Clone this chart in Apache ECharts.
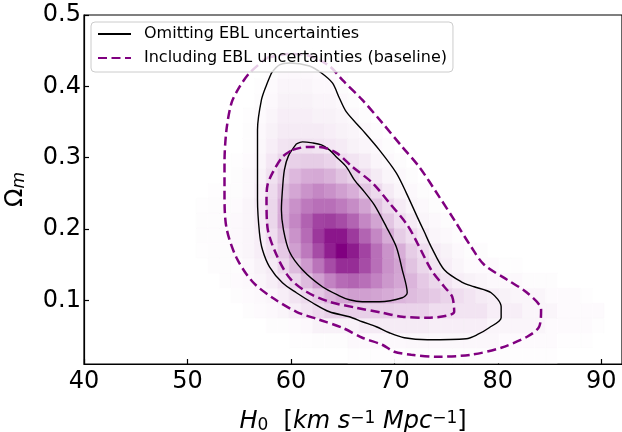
<!DOCTYPE html>
<html><head><meta charset="utf-8">
<script src="https://cdn.jsdelivr.net/npm/echarts@6/dist/echarts.min.js"></script>
<style>html,body{margin:0;padding:0;background:#fff}#c{width:622px;height:432px}</style>
</head><body><div id="c"></div>
<script>
const xTicks = [40, 50, 60, 70, 80, 90];
const yTicks = [0.1, 0.2, 0.3, 0.4, 0.5];
const seriesNames = ['Omitting EBL uncertainties', 'Including EBL uncertainties (baseline)'];

// 2D histogram bins (H0 start, width; Omega_m start, height)
const binX0 = 50.85, binW = 1.126, binY0 = 0.0124, binH = 0.021;

// density rows, bottom (Omega_m low) to top; columns H0 low to high (0-100 scale)
const density = [
  [0,0,0,0,0,0,0,0,0,0,0,0,0,0.5,0.5,0.5,0.5,0.5,1,1,1,1,1,1,1,1,1,0.5,0.5,0.5,0.5,0,0,0,0,0],
  [0,0,0,0,0,0,0,0,0.5,0.5,1,1,1,2,2,2,2,2,2.5,2.5,2.5,2.5,2.5,2.5,2.5,2.5,1.5,1.5,1.5,1.5,1.5,0.5,0.5,0.5,0,0],
  [0,0,0,0,0,0,1,1,1.5,2,4,4,4,4,6,6,6,6,6,6,5,5,5,5,5,3,3,3,3,3,1.5,1.5,1.5,1.5,0.5,0],
  [0,0,0,0,1,1.5,2,3,5,8,11,14,14,14,14,14,14,13,13,13,10,10,8,8,8,5,5,5,3,3,3,1.5,1.5,1.5,1.5,0],
  [0,0,0,1,1.5,2,3,5,8,11,16,22,27,30,30,28,25,22,20,18,16,13,10,8,6,5,4,3,3,3,1.5,1.5,1.5,0.5,0,0],
  [0,0,1,1.5,2,3,5,8,12,20,30,42,52,55,50,42,33,27,22,16,12,8,5,4,3,2,2,2,1,1,1,0,0,0,0,0],
  [0,1,1,1,2,4,6,12,20,32,48,66,80,80,66,50,36,28,18,12,8,5,3,1.5,1.5,1.5,0.5,0.5,0,0,0,0,0,0,0,0],
  [0.5,1,1,2,3,5,9,16,30,46,66,86,100,88,70,50,35,24,15,10,6,4,2,1,1,0,0,0,0,0,0,0,0,0,0,0],
  [1,1,1,2,3,5,10,20,35,52,75,90,90,74,55,40,25,15,10,6,3,2,1,0,0,0,0,0,0,0,0,0,0,0,0,0],
  [1,1,1,2,3,6,12,25,40,56,70,72,66,55,40,28,17,10,6,3,2,1,0,0,0,0,0,0,0,0,0,0,0,0,0,0],
  [0.5,1,1,1.5,3,6,12,24,36,46,50,50,45,38,28,18,11,6,3,2,1,0,0,0,0,0,0,0,0,0,0,0,0,0,0,0],
  [0,0.5,0.5,1,2,5,11,20,27,35,40,36,30,24,17,11,6,3,2,1,0,0,0,0,0,0,0,0,0,0,0,0,0,0,0,0],
  [0,0,0,1,2,4,9,15,21,25,26,23,18,14,10,6,3,2,1,0,0,0,0,0,0,0,0,0,0,0,0,0,0,0,0,0],
  [0,0,0,0.5,1.5,3,7,12,14,15,15,13,10,8,6,3,2,1,0,0,0,0,0,0,0,0,0,0,0,0,0,0,0,0,0,0],
  [0,0,0,0,1,2.5,5,8,9,9,8,7,6,4,3,2,1,0,0,0,0,0,0,0,0,0,0,0,0,0,0,0,0,0,0,0],
  [0,0,0,0,1,2,4,6,6,6,6,5,4,3,2,1,0,0,0,0,0,0,0,0,0,0,0,0,0,0,0,0,0,0,0,0],
  [0,0,0,0,0.5,1.5,3,5,5,5,4,4,3,2,1,0,0,0,0,0,0,0,0,0,0,0,0,0,0,0,0,0,0,0,0,0],
  [0,0,0,0,0,1,2,4,4,4,3,3,2,1,0,0,0,0,0,0,0,0,0,0,0,0,0,0,0,0,0,0,0,0,0,0],
  [0,0,0,0,0,0.5,1.5,3,3,3,2,2,1,0,0,0,0,0,0,0,0,0,0,0,0,0,0,0,0,0,0,0,0,0,0,0],
  [0,0,0,0,0,0,1,2,2,2,1.5,1,0.5,0,0,0,0,0,0,0,0,0,0,0,0,0,0,0,0,0,0,0,0,0,0,0],
  [0,0,0,0,0,0,0,1,1,1,0.5,0,0,0,0,0,0,0,0,0,0,0,0,0,0,0,0,0,0,0,0,0,0,0,0,0],
  [0,0,0,0,0,0,0,0,0.5,0,0,0,0,0,0,0,0,0,0,0,0,0,0,0,0,0,0,0,0,0,0,0,0,0,0,0]
];

// contours [H0, Omega_m]
const blackOuter = [[58.12,0.4188],[58.89,0.4300],[59.86,0.4328],[61.79,0.4286],[62.95,0.4188],[64.01,0.4048],[64.68,0.3838],[65.36,0.3642],[66.90,0.3390],[68.54,0.3110],[70.18,0.2788],[71.15,0.2508],[72.21,0.2172],[72.89,0.1962],[73.56,0.1752],[74.82,0.1430],[76.46,0.1262],[77.71,0.1192],[79.35,0.1108],[80.32,0.0912],[80.32,0.0758],[79.16,0.0618],[78.00,0.0520],[76.94,0.0464],[73.18,0.0450],[70.96,0.0478],[69.51,0.0548],[68.25,0.0632],[66.90,0.0702],[65.65,0.0772],[63.72,0.0842],[62.08,0.0968],[60.53,0.1108],[59.18,0.1248],[57.93,0.1472],[57.25,0.1710],[56.96,0.1948],[56.77,0.2410],[56.77,0.2872],[56.77,0.3390],[57.15,0.3810],[57.64,0.4020],[58.12,0.4188]];
const blackInner = [[60.53,0.3194],[61.11,0.3222],[62.08,0.3208],[62.95,0.3180],[63.72,0.3110],[64.39,0.3012],[65.36,0.2872],[66.13,0.2690],[67.10,0.2522],[68.06,0.2340],[69.22,0.2032],[70.18,0.1752],[70.76,0.1430],[71.24,0.1108],[70.76,0.1038],[68.54,0.0982],[66.90,0.0982],[65.65,0.1010],[64.68,0.1066],[63.04,0.1192],[61.11,0.1430],[59.86,0.1682],[59.28,0.1990],[59.08,0.2270],[59.18,0.2550],[59.37,0.2830],[59.76,0.3026],[60.53,0.3194]];
const purpleOuter = [[57.64,0.4398],[59.86,0.4454],[61.79,0.4426],[63.72,0.4286],[64.97,0.4090],[66.90,0.3810],[68.83,0.3488],[70.76,0.3152],[72.40,0.2872],[74.34,0.2452],[75.78,0.2130],[77.42,0.1752],[78.68,0.1500],[80.90,0.1290],[82.83,0.1108],[84.18,0.0870],[83.99,0.0632],[82.83,0.0492],[80.32,0.0338],[77.42,0.0240],[74.14,0.0212],[71.63,0.0240],[69.99,0.0282],[68.83,0.0380],[66.90,0.0478],[64.97,0.0618],[62.75,0.0730],[60.53,0.0842],[58.22,0.1038],[56.29,0.1262],[54.74,0.1598],[53.77,0.2018],[53.58,0.2480],[53.58,0.2928],[53.77,0.3390],[54.26,0.3768],[55.03,0.3992],[56.00,0.4188],[57.64,0.4398]];
const purpleInner = [[60.15,0.3110],[61.50,0.3152],[62.75,0.3152],[64.39,0.3068],[65.94,0.2872],[67.87,0.2648],[69.51,0.2368],[71.24,0.2060],[72.21,0.1808],[73.56,0.1430],[74.82,0.1192],[75.59,0.1052],[75.78,0.0842],[73.18,0.0758],[70.76,0.0772],[68.83,0.0828],[66.32,0.0898],[63.72,0.0982],[61.50,0.1122],[59.86,0.1318],[58.60,0.1640],[57.74,0.2018],[57.64,0.2410],[57.74,0.2620],[58.22,0.2788],[59.18,0.3012],[60.15,0.3110]];

const cells = [];
density.forEach((row, r) => row.forEach((v, c) => {
  if (v > 0) cells.push([binX0 + c * binW, binY0 + r * binH, v]);
}));

const FONT = 'DejaVu Sans';
const chart = echarts.init(document.getElementById('c'), null, {renderer: 'canvas'});
const blackStyle = {color: '#000000', width: 1.4, type: 'solid'};
const purpleStyle = {color: '#800080', width: 2.5, type: [9, 4.5]};

chart.setOption({
  animation: false,
  backgroundColor: '#ffffff',
  grid: {left: 84, top: 15, right: 0, bottom: 68, show: true, borderColor: '#000', borderWidth: 1.2,
    backgroundColor: 'transparent', containLabel: false, outerBoundsMode: 'none'},
  xAxis: {
    type: 'value', min: 40, max: 92,
    axisLine: {lineStyle: {color: '#000', width: 1.2}},
    axisTick: {inside: true, length: 5, customValues: xTicks, lineStyle: {color: '#000', width: 1.2}},
    axisLabel: {customValues: xTicks, color: '#000', fontSize: 24, fontFamily: FONT, margin: 6},
    splitLine: {show: false},
    name: '{i|H}{sub|0}{n|  [}{i|km s}{sup|−1}{i| Mpc}{sup|−1}{n|]}',
    nameLocation: 'middle', nameGap: 46,
    nameTextStyle: {
      fontFamily: FONT, fontSize: 24, color: '#000',
      rich: {
        i: {fontFamily: FONT, fontSize: 24, fontStyle: 'italic', color: '#000'},
        n: {fontFamily: FONT, fontSize: 24, color: '#000'},
        sub: {fontFamily: FONT, fontSize: 17, color: '#000', verticalAlign: 'bottom', padding: [6, 0, 0, 0]},
        sup: {fontFamily: FONT, fontSize: 17, color: '#000', verticalAlign: 'top', padding: [0, 0, 6, 0]}
      }
    }
  },
  yAxis: {
    type: 'value', min: 0.011, max: 0.5,
    axisLine: {lineStyle: {color: '#000', width: 1.2}},
    axisTick: {inside: true, length: 5, customValues: yTicks, lineStyle: {color: '#000', width: 1.2}},
    axisLabel: {customValues: yTicks, color: '#000', fontSize: 24, fontFamily: FONT, margin: 3,
      formatter: v => v.toFixed(1)},
    splitLine: {show: false},
    name: '{n|Ω}{sub|m}',
    nameLocation: 'middle', nameGap: 56, nameRotate: 90,
    nameTextStyle: {
      fontFamily: FONT, fontSize: 23, color: '#000',
      rich: {
        n: {fontFamily: FONT, fontSize: 24, color: '#000'},
        sub: {fontFamily: FONT, fontSize: 17, fontStyle: 'italic', color: '#000', verticalAlign: 'bottom', padding: [6, 0, 0, 0]}
      }
    }
  },
  visualMap: {type: 'continuous', show: false, min: 0, max: 100, dimension: 2, seriesIndex: 0,
    inRange: {color: ['#ffffff', '#d6abd6', '#b86fb8', '#9c389c', '#800080']}},
  legend: {
    data: seriesNames, orient: 'vertical', left: 91, top: 22,
    itemWidth: 33, itemHeight: 14, itemGap: 8,
    backgroundColor: 'rgba(255,255,255,0.8)', borderColor: '#cccccc', borderWidth: 1, borderRadius: 4,
    padding: [4, 6, 6, 6],
    itemStyle: {opacity: 0},
    textStyle: {fontFamily: FONT, fontSize: 16, color: '#000', padding: [0, 0, 0, 8]}
  },
  series: [
    {
      type: 'custom', name: 'density', data: cells, encode: {x: 0, y: 1}, silent: true,
      renderItem: function (params, api) {
        const x0 = api.value(0), y0 = api.value(1);
        const p0 = api.coord([x0, y0]);
        const p1 = api.coord([x0 + binW, y0 + binH]);
        const color = api.visual('color');
        return {type: 'rect', shape: {x: p0[0], y: p1[1], width: p1[0] - p0[0], height: p0[1] - p1[1]},
          style: {fill: color, stroke: color, lineWidth: 0.6}};
      }
    },
    {type: 'line', name: seriesNames[0], data: blackOuter, symbol: 'none', smooth: 0.3, lineStyle: blackStyle, itemStyle: {color: '#000', opacity: 0}},
    {type: 'line', name: seriesNames[0], data: blackInner, symbol: 'none', smooth: 0.3, lineStyle: blackStyle, itemStyle: {color: '#000', opacity: 0}},
    {type: 'line', name: seriesNames[1], data: purpleOuter, symbol: 'none', smooth: 0.3, lineStyle: purpleStyle, itemStyle: {color: '#800080', opacity: 0}},
    {type: 'line', name: seriesNames[1], data: purpleInner, symbol: 'none', smooth: 0.3, lineStyle: purpleStyle, itemStyle: {color: '#800080', opacity: 0}}
  ]
});
</script></body></html>
